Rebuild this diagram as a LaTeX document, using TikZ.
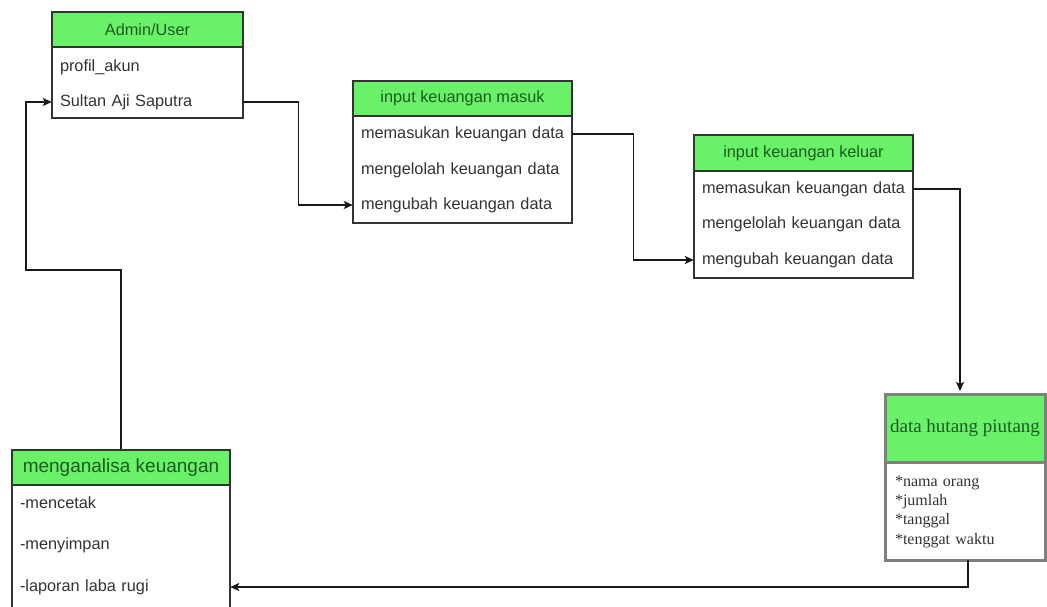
\documentclass[tikz,border=0pt]{standalone}
\usepackage{fontspec}
\setmainfont{Liberation Sans}
\newfontfamily\serifx{Liberation Serif}
\usetikzlibrary{arrows.meta}
\definecolor{hdr}{HTML}{6AF16A}
\definecolor{hdrtxt}{HTML}{1E5A1E}
\definecolor{bodytxt}{HTML}{333333}
\definecolor{edge}{HTML}{333333}
\definecolor{grayedge}{HTML}{808080}
\begin{document}
\begin{tikzpicture}[x=1pt,y=-1pt,
 hdrbox/.style={draw=edge, line width=1.4pt, fill=hdr, text=hdrtxt, inner sep=0pt, font=\fontsize{16.3}{19}\selectfont},
 bodybox/.style={draw=edge, line width=1.4pt, fill=white, inner sep=0pt},
 rowtext/.style={text width=#1, align=left, inner xsep=8pt, inner ysep=0pt, text height=12pt, text depth=3.5pt, text=bodytxt, font=\fontsize{16.3}{19}\selectfont},
 serifrow/.style={text width=#1, align=left, inner xsep=10pt, inner ysep=0pt, text height=11pt, text depth=3.5pt, text=bodytxt, font=\serifx\fontsize{16}{19}\selectfont},
 conn/.style={draw=black!90, line width=1.4pt, -{Stealth[length=9pt,width=8pt,inset=2pt]}}
]
\useasboundingbox (0,0) rectangle (1047,606);
\clip (0,0) rectangle (1047,606);
\fill[white] (0,0) rectangle (1047,606);

% Admin/User
\node[hdrbox, minimum width=191pt, minimum height=35pt] (Ah) at (147.5,29.5) {Admin/User};
\node[bodybox, minimum width=191pt, minimum height=71pt] (Ab) at (147.5,82.5) {};
\node[rowtext=175pt] (a1) at (147.5,67) {profil\_akun};
\node[rowtext=175pt] (a2) at (147.5,102) {Sultan Aji Saputra};

% input keuangan masuk
\node[hdrbox, minimum width=219pt, minimum height=35pt] (Bh) at (462.5,98.5) {input keuangan masuk};
\node[bodybox, minimum width=219pt, minimum height=107pt] (Bb) at (462.5,169.5) {};
\node[rowtext=203pt] (b1) at (462.5,134) {memasukan keuangan data};
\node[rowtext=203pt] (b2) at (462.5,170) {mengelolah keuangan data};
\node[rowtext=203pt] (b3) at (462.5,205) {mengubah keuangan data};

% input keuangan keluar
\node[hdrbox, minimum width=219pt, minimum height=36pt] (Ch) at (803.5,153) {input keuangan keluar};
\node[bodybox, minimum width=219pt, minimum height=107pt] (Cb) at (803.5,224.5) {};
\node[rowtext=203pt] (c1) at (803.5,189) {memasukan keuangan data};
\node[rowtext=203pt] (c2) at (803.5,224) {mengelolah keuangan data};
\node[rowtext=203pt] (c3) at (803.5,260) {mengubah keuangan data};

% data hutang piutang
\node[draw=grayedge, line width=3pt, fill=hdr, text=hdrtxt, inner sep=0pt, minimum width=160pt, minimum height=68pt, font=\serifx\fontsize{19}{22}\selectfont] (Dh) at (965,428) {data hutang piutang};
\node[draw=grayedge, line width=3pt, fill=white, inner sep=0pt, minimum width=160pt, minimum height=98pt] (Db) at (965,511) {};
\node[serifrow=140pt] (d1) at (965,483) {*nama orang};
\node[serifrow=140pt] (d2) at (965,502) {*jumlah};
\node[serifrow=140pt] (d3) at (965,521) {*tanggal};
\node[serifrow=140pt] (d4) at (965,541) {*tenggat waktu};

% menganalisa keuangan
\node[hdrbox, minimum width=218pt, minimum height=35pt, font=\fontsize{19}{22}\selectfont] (Eh) at (121,467.5) {menganalisa keuangan};
\node[bodybox, minimum width=218pt, minimum height=140pt] (Eb) at (121,555) {};
\node[rowtext=202pt] (e1) at (121,504) {-mencetak};
\node[rowtext=202pt] (e2) at (121,545) {-menyimpan};
\node[rowtext=202pt] (e3) at (121,587) {-laporan laba rugi};

% connectors
\coordinate (cA) at (26,270);
\draw[conn] (Eh.north) |- (cA) |- (a2.west);
\draw[conn] (a2.east) -- ++(55,0) |- (b3.west);
\draw[conn] (b1.east) -- ++(61,0) |- (c3.west);
\draw[conn, shorten >=1.5pt] (c1.east) -| ([xshift=-5pt]Dh.north);
\draw[conn] ([xshift=3pt,yshift=1.5pt]Db.south) |- (e3.east);
\end{tikzpicture}
\end{document}
